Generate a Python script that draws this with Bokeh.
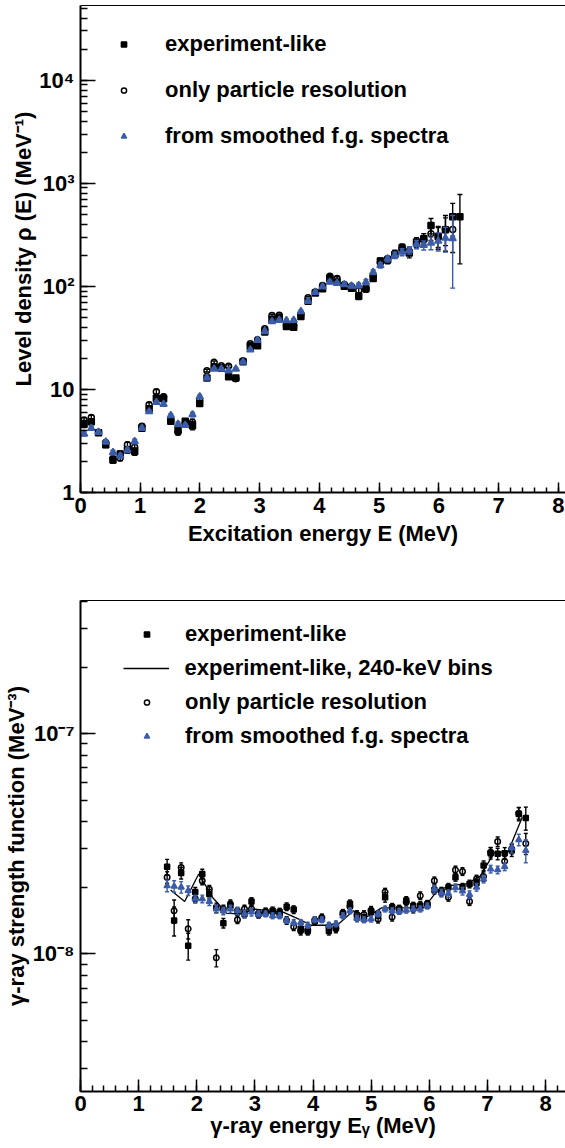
from bokeh.plotting import figure
from bokeh.models import (LinearAxis, LogTicker, SingleIntervalTicker, FixedTicker,
                          CustomJSTickFormatter, ColumnDataSource, Legend, LegendItem, Range1d)
from bokeh.layouts import column
from bokeh.embed import file_html
from bokeh.resources import INLINE

FONT = "Liberation Sans"
BLUE = "#3b5ca9"

# ---------------- level density data ----------------
ex_energy = [0.060, 0.181, 0.302, 0.423, 0.544, 0.665, 0.786, 0.907, 1.028, 1.149,
             1.270, 1.391, 1.512, 1.633, 1.754, 1.875, 1.996, 2.117, 2.238, 2.359,
             2.480, 2.601, 2.722, 2.843, 2.964, 3.085, 3.206, 3.327, 3.448, 3.569,
             3.690, 3.811, 3.932, 4.053, 4.174, 4.295, 4.416, 4.537, 4.658, 4.779,
             4.900, 5.021, 5.142, 5.263, 5.384, 5.505, 5.626, 5.747, 5.868, 5.989,
             6.110, 6.231, 6.352]

rho_exp = [4.6, 4.85, 3.8, 2.9, 2.07, 2.36, 2.6, 2.5, 4.2, 6.5,
           8.2, 8.1, 4.9, 4.05, 4.9, 4.45, 7.3, 12.9, 16.4, 16.0,
           13.3, 12.9, 18.5, 26.0, 26.5, 36.0, 48.0, 49.5, 40.8, 40.1,
           51.0, 71.8, 86.0, 95.0, 119.0, 110.0, 100.0, 96.0, 80.0, 95.0,
           119.0, 176.0, 180.0, 204.0, 237.0, 210.0, 269.0, 290.0, 389.0, 305.0,
           353.0, 472.0, 472.0]
rho_exp_rel = [0.07, 0.06, 0.05, 0.06, 0.07, 0.07, 0.07, 0.08, 0.05, 0.05,
               0.05, 0.05, 0.06, 0.07, 0.06, 0.09, 0.06, 0.04, 0.04, 0.04,
               0.04, 0.04, 0.04, 0.04, 0.04, 0.04, 0.04, 0.04, 0.04, 0.04,
               0.04, 0.04, 0.04, 0.04, 0.05, 0.05, 0.05, 0.05, 0.07, 0.08,
               0.06, 0.07, 0.08, 0.08, 0.09, 0.10, 0.10, 0.12, 0.17, 0.25,
               0.38, 0.35, 0.65]

rho_part = [5.05, 5.35, 3.85, 3.05, 2.12, 2.16, 2.9, 2.75, 4.4, 7.1,
            9.5, 8.5, 5.0, 3.85, 4.7, 4.8, 8.0, 15.2, 18.3, 17.0,
            16.8, 12.7, 19.0, 27.7, 30.3, 38.7, 52.0, 52.5, 42.0, 42.0,
            54.0, 77.5, 88.0, 102.0, 125.0, 119.0, 104.0, 100.0, 91.0, 95.0,
            128.0, 170.0, 185.0, 207.0, 232.0, 220.0, 255.0, 284.0, 324.0, 305.0,
            355.0, 355.0]
rho_part_rel = [0.05, 0.05, 0.05, 0.05, 0.06, 0.06, 0.06, 0.06, 0.05, 0.05,
                0.05, 0.05, 0.05, 0.06, 0.05, 0.07, 0.05, 0.03, 0.03, 0.03,
                0.03, 0.03, 0.03, 0.03, 0.03, 0.03, 0.03, 0.03, 0.03, 0.03,
                0.03, 0.03, 0.03, 0.03, 0.04, 0.04, 0.04, 0.04, 0.06, 0.06,
                0.05, 0.07, 0.07, 0.08, 0.08, 0.09, 0.09, 0.10, 0.14, 0.22,
                0.30, 0.40]

rho_smooth = [3.7, 4.2, 3.85, 3.1, 2.45, 2.27, 2.58, 3.13, 4.2, 6.1,
              7.5, 7.2, 5.6, 4.6, 4.5, 5.7, 8.5, 12.9, 15.8, 15.8,
              15.2, 15.8, 18.5, 24.2, 30.0, 36.5, 45.6, 47.0, 46.6, 47.0,
              57.0, 71.8, 87.9, 99.0, 110.0, 107.0, 104.0, 101.0, 102.0, 110.0,
              137.0, 160.0, 185.0, 200.0, 215.0, 223.0, 255.0, 250.0, 263.0, 275.0,
              294.0, 291.0]
rho_smooth_rel = [0.04, 0.04, 0.04, 0.04, 0.05, 0.05, 0.05, 0.05, 0.04, 0.04,
                  0.04, 0.04, 0.04, 0.05, 0.04, 0.05, 0.04, 0.03, 0.03, 0.03,
                  0.03, 0.03, 0.03, 0.03, 0.03, 0.03, 0.03, 0.03, 0.03, 0.03,
                  0.03, 0.03, 0.03, 0.03, 0.04, 0.04, 0.04, 0.04, 0.05, 0.06,
                  0.05, 0.06, 0.07, 0.07, 0.08, 0.08, 0.09, 0.10, 0.14, 0.20,
                  0.27, 0.67]

# ---------------- gamma-ray strength data ----------------
eg_energy = [1.490, 1.611, 1.732, 1.853, 1.974, 2.095, 2.216, 2.337, 2.458, 2.579,
             2.700, 2.821, 2.942, 3.063, 3.184, 3.305, 3.426, 3.547, 3.668, 3.789,
             3.910, 4.031, 4.152, 4.273, 4.394, 4.515, 4.636, 4.757, 4.878, 4.999,
             5.120, 5.241, 5.362, 5.483, 5.604, 5.725, 5.846, 5.967, 6.088, 6.209,
             6.330, 6.451, 6.572, 6.693, 6.814, 6.935, 7.056, 7.177, 7.298, 7.419,
             7.540, 7.661]

f_exp = [2.49, 1.42, 2.33, 1.09, 1.91, 2.31, 1.87, 1.62, 1.38, 1.65,
         1.56, 1.52, 1.73, 1.52, 1.55, 1.57, 1.55, 1.64, 1.59, 1.30,
         1.27, 1.41, 1.45, 1.27, 1.33, 1.53, 1.69, 1.46, 1.45, 1.55,
         1.51, 1.81, 1.63, 1.60, 1.75, 1.65, 1.66, 1.68, 1.95, 1.91,
         2.01, 2.23, 2.01, 2.08, 2.10, 2.52, 2.87, 2.85, 2.87, 2.95,
         4.33, 4.15]
f_exp_rel = [0.08, 0.15, 0.06, 0.14, 0.05, 0.05, 0.05, 0.05, 0.05, 0.04,
             0.04, 0.04, 0.04, 0.04, 0.04, 0.04, 0.04, 0.04, 0.04, 0.04,
             0.04, 0.04, 0.04, 0.04, 0.04, 0.04, 0.04, 0.04, 0.04, 0.04,
             0.04, 0.05, 0.04, 0.04, 0.04, 0.04, 0.04, 0.04, 0.04, 0.04,
             0.04, 0.04, 0.04, 0.04, 0.04, 0.05, 0.06, 0.06, 0.06, 0.06,
             0.07, 0.12]

f_part = [2.23, 1.57, 2.47, 1.30, 1.78, 2.15, 1.97, 0.96, 1.60, 1.69,
          1.43, 1.60, 1.60, 1.52, 1.55, 1.55, 1.52, 1.42, 1.33, 1.27,
          1.28, 1.42, 1.46, 1.33, 1.30, 1.52, 1.64, 1.51, 1.51, 1.58,
          1.44, 1.91, 1.47, 1.58, 1.72, 1.60, 1.84, 1.68, 2.15, 1.93,
          1.81, 2.41, 2.37, 1.73, 2.19, 2.25, 2.90, 3.24, 2.64, 3.00,
          4.36, 3.18]
f_part_rel = [0.06, 0.12, 0.05, 0.10, 0.04, 0.04, 0.04, 0.09, 0.04, 0.04,
              0.04, 0.04, 0.04, 0.04, 0.04, 0.04, 0.04, 0.04, 0.04, 0.04,
              0.04, 0.04, 0.04, 0.04, 0.04, 0.04, 0.04, 0.04, 0.04, 0.04,
              0.04, 0.04, 0.04, 0.04, 0.04, 0.04, 0.04, 0.04, 0.04, 0.04,
              0.04, 0.04, 0.04, 0.04, 0.04, 0.05, 0.05, 0.05, 0.05, 0.05,
              0.06, 0.11]

f_smooth = [2.04, 2.03, 2.01, 1.94, 1.78, 1.78, 1.73, 1.60, 1.57, 1.60,
            1.57, 1.52, 1.55, 1.52, 1.52, 1.49, 1.49, 1.42, 1.39, 1.39,
            1.35, 1.43, 1.43, 1.35, 1.37, 1.49, 1.57, 1.45, 1.43, 1.44,
            1.52, 1.60, 1.57, 1.56, 1.58, 1.60, 1.60, 1.65, 1.97, 1.89,
            1.88, 2.00, 1.93, 1.86, 2.01, 2.19, 2.43, 2.41, 2.49, 3.03,
            3.30, 2.95]
f_smooth_rel = [0.06, 0.06, 0.06, 0.05, 0.04, 0.04, 0.04, 0.04, 0.04, 0.04,
                0.04, 0.04, 0.04, 0.03, 0.03, 0.03, 0.03, 0.03, 0.03, 0.03,
                0.03, 0.03, 0.03, 0.03, 0.03, 0.03, 0.03, 0.03, 0.03, 0.03,
                0.03, 0.03, 0.03, 0.03, 0.03, 0.03, 0.03, 0.03, 0.04, 0.04,
                0.04, 0.04, 0.04, 0.04, 0.04, 0.04, 0.04, 0.04, 0.04, 0.05,
                0.06, 0.12]

bins240_energy = [1.550, 1.792, 2.034, 2.276, 2.518, 2.760, 3.002, 3.244, 3.486, 3.728,
                  3.970, 4.212, 4.454, 4.696, 4.938, 5.180, 5.422, 5.664, 5.906, 6.148,
                  6.390, 6.632, 6.874, 7.116, 7.358, 7.600]
f_bins240 = [1.95, 1.73, 2.31, 1.80, 1.53, 1.52, 1.60, 1.57, 1.55, 1.45,
             1.35, 1.35, 1.38, 1.57, 1.48, 1.62, 1.62, 1.62, 1.62, 1.95,
             2.05, 2.08, 2.25, 2.88, 2.92, 4.18]
F_UNIT = 1e-8

POW_FMT = CustomJSTickFormatter(code="""
    const e = Math.round(Math.log10(tick));
    if (e === 0) { return "1"; }
    if (e === 1) { return "10"; }
    const sup = {"-": "\\u207b", "0": "\\u2070", "1": "\\u00b9", "2": "\\u00b2", "3": "\\u00b3",
                 "4": "\\u2074", "5": "\\u2075", "6": "\\u2076", "7": "\\u2077", "8": "\\u2078", "9": "\\u2079"};
    let s = "";
    for (const c of String(e)) { s += sup[c]; }
    return "10" + s;
""")


def err_source(x, y, rel, scale=1.0):
    yy = [v * scale for v in y]
    lo = [v * (1 - r) for v, r in zip(yy, rel)]
    hi = [v * (1 + r) for v, r in zip(yy, rel)]
    return ColumnDataSource(dict(x=x[:len(yy)], y=yy, lo=lo, hi=hi))


def draw_series(p, src, marker, color, size, fill, cap):
    p.segment(x0="x", y0="lo", x1="x", y1="hi", source=src, line_color=color, line_width=1.4)
    p.scatter(x="x", y="lo", source=src, marker="dash", size=cap, line_color=color, line_width=1.4)
    p.scatter(x="x", y="hi", source=src, marker="dash", size=cap, line_color=color, line_width=1.4)
    return p.scatter(x="x", y="y", source=src, marker=marker, size=size,
                     line_color=color, fill_color=fill, line_width=1.5)


def style(p, xlabel, ylabel, tick_major, tick_minor, x_standoff, x_label_standoff, y_label_standoff):
    p.xgrid.grid_line_color = None
    p.ygrid.grid_line_color = None
    p.outline_line_color = None
    p.background_fill_color = "white"
    p.border_fill_color = "white"
    xa = p.below[0]
    ya = p.left[0]
    for ax in (xa, ya):
        ax.axis_line_width = 2
        ax.axis_line_color = "black"
        ax.major_tick_out = 0
        ax.minor_tick_out = 0
        ax.major_tick_line_width = 1.5
        ax.minor_tick_line_width = 1.5
        ax.major_tick_line_color = "black"
        ax.minor_tick_line_color = "black"
        ax.major_label_text_font = FONT
        ax.major_label_text_font_style = "bold"
        ax.major_label_text_font_size = "22px"
        ax.major_label_text_color = "black"
        ax.axis_label_text_font = FONT
        ax.axis_label_text_font_style = "bold"
        ax.axis_label_text_font_size = "22px"
        ax.axis_label_text_color = "black"
    xa.axis_label = xlabel
    xa.ticker = SingleIntervalTicker(interval=1, num_minor_ticks=5)
    xa.major_tick_in = tick_major
    xa.minor_tick_in = tick_minor
    xa.major_label_standoff = x_standoff
    xa.axis_label_standoff = x_label_standoff
    ya.axis_label = ylabel
    ya.ticker = LogTicker(num_minor_ticks=10)
    ya.formatter = POW_FMT
    ya.major_tick_in = 15
    ya.minor_tick_in = 7
    ya.major_label_standoff = 6
    ya.axis_label_standoff = y_label_standoff
    # plain upper frame edge
    top_line = LinearAxis(ticker=FixedTicker(ticks=[]), axis_line_width=1, axis_line_color="black",
                          major_tick_in=0, major_tick_out=0, minor_tick_in=0, minor_tick_out=0,
                          major_label_standoff=0, major_label_text_font_size="0px")
    p.add_layout(top_line, "above")


def make_legend(p, items, loc, glyph_width, standoff, spacing=0):
    # the key symbol is scaled from the glyph box, so a narrow box keeps markers small
    leg = Legend(items=items, location=loc, orientation="vertical",
                 glyph_width=glyph_width, glyph_height=28, label_height=28,
                 label_standoff=standoff, spacing=spacing, padding=0, margin=0,
                 border_line_color=None, background_fill_alpha=0,
                 label_text_font=FONT, label_text_font_style="bold",
                 label_text_font_size="22px", label_text_color="black")
    p.add_layout(leg, "center")


# ---------------- top panel: level density ----------------
top = figure(width=565, height=575, y_axis_type="log",
             x_range=Range1d(0, 8.12), y_range=Range1d(1, 5.3e4),
             min_border_left=80, min_border_right=0, min_border_top=5, min_border_bottom=83,
             output_backend="svg", toolbar_location=None)

r_exp = draw_series(top, err_source(ex_energy, rho_exp, rho_exp_rel), "square", "black", 6, "black", 5)
r_part = draw_series(top, err_source(ex_energy, rho_part, rho_part_rel), "circle", "black", 6, None, 5)
r_smooth = draw_series(top, err_source(ex_energy, rho_smooth, rho_smooth_rel), "triangle", BLUE, 7, BLUE, 5)

style(top, "Excitation energy E (MeV)", "Level density \u03c1 (E) (MeV\u207b\u00b9)", 10, 5, 5, 5, 0)

make_legend(top, [LegendItem(label="experiment-like", renderers=[r_exp]),
                  LegendItem(label="only particle resolution", renderers=[r_part]),
                  LegendItem(label="from smoothed f.g. spectra", renderers=[r_smooth])],
            (37, 342), 13, 35, 18)

# ---------------- bottom panel: gamma-ray strength function ----------------
bot = figure(width=565, height=573, y_axis_type="log",
             x_range=Range1d(0, 8.344), y_range=Range1d(2.37e-9, 4.04e-7),
             min_border_left=80, min_border_right=0, min_border_top=25, min_border_bottom=57,
             output_backend="svg", toolbar_location=None)

g_exp = draw_series(bot, err_source(eg_energy, f_exp, f_exp_rel, F_UNIT), "square", "black", 5, "black", 4)
g_line = bot.line(x=bins240_energy, y=[v * F_UNIT for v in f_bins240], line_color="black", line_width=1.3)
g_part = draw_series(bot, err_source(eg_energy, f_part, f_part_rel, F_UNIT), "circle", "black", 5.5, None, 4)
g_smooth = draw_series(bot, err_source(eg_energy, f_smooth, f_smooth_rel, F_UNIT), "triangle", BLUE, 6, BLUE, 4)

style(bot, "\u03b3-ray energy E\u1d67 (MeV)", "\u03b3-ray strength function (MeV\u207b\u00b3)", 12, 6, 4, -1, 1)

# legend rows: marker keys use a narrow box, the line key a wide one
make_legend(bot, [LegendItem(label="experiment-like", renderers=[g_exp])], (60, 443), 13, 32)
make_legend(bot, [LegendItem(label="experiment-like, 240-keV bins", renderers=[g_line])], (42.5, 409), 46, 16)
make_legend(bot, [LegendItem(label="only particle resolution", renderers=[g_part]),
                  LegendItem(label="from smoothed f.g. spectra", renderers=[g_smooth])],
            (60, 341), 13, 32, 6)

layout = column(top, bot, spacing=0)
open("out.html", "w").write(file_html(layout, INLINE))
